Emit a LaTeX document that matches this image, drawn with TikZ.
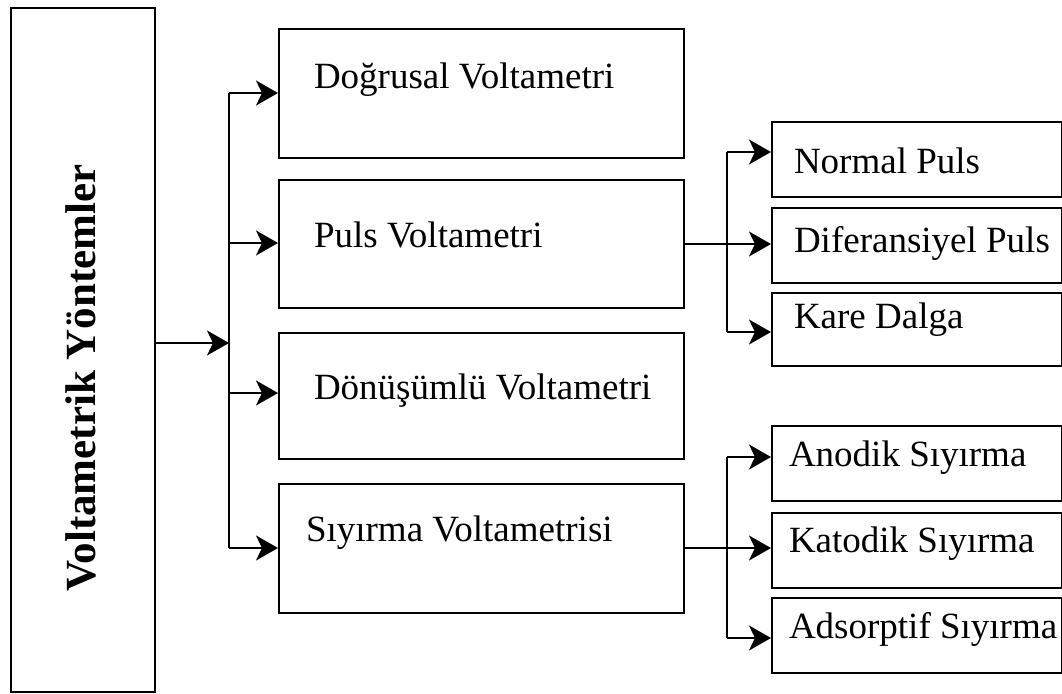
\documentclass[tikz,border=0pt]{standalone}
\usepackage{fontspec}
\setmainfont{Liberation Serif}
\usetikzlibrary{arrows.meta}
\begin{document}
\begin{tikzpicture}[x=1pt,y=-1pt,
  line width=2pt,
  box/.style={draw=black, line width=2pt, rectangle, anchor=north west, inner sep=0pt},
  lbl/.style={anchor=west, inner sep=0pt, font=\fontsize{37}{44}\selectfont},
  arr/.style={-{Stealth[length=22pt,width=25pt,inset=6pt]}},
]
\useasboundingbox (0,0) rectangle (1062,693);
% main box
\node[box, minimum width=144pt, minimum height=684pt] (main) at (10,7) {};
\node[rotate=90, anchor=base, inner sep=0pt, font=\bfseries\fontsize{43}{50}\selectfont] (mainlbl) at (95,378) {Voltametrik Yöntemler};
% middle boxes
\node[box, minimum width=405pt, minimum height=129pt] (b1) at (278,28) {};
\node[box, minimum width=405pt, minimum height=128pt] (b2) at (278,179) {};
\node[box, minimum width=405pt, minimum height=126pt] (b3) at (278,332) {};
\node[box, minimum width=405pt, minimum height=129pt] (b4) at (278,483) {};
\node[lbl] (l1) at (313,80) {Doğrusal Voltametri};
\node[lbl] (l2) at (313,235) {Puls Voltametri};
\node[lbl] (l3) at (313,391) {Dönüşümlü Voltametri};
\node[lbl] (l4) at (305,533) {Sıyırma Voltametrisi};
% right boxes (upper)
\node[box, minimum width=290pt, minimum height=75pt] (r1) at (771,121) {};
\node[box, minimum width=290pt, minimum height=75pt] (r2) at (771,207) {};
\node[box, minimum width=290pt, minimum height=73pt] (r3) at (771,292) {};
\node[lbl] (q1) at (793,161) {Normal Puls};
\node[lbl] (q2) at (793,243) {Diferansiyel Puls};
\node[lbl] (q3) at (793,320) {Kare Dalga};
% right boxes (lower)
\node[box, minimum width=290pt, minimum height=75pt] (s1) at (771,425) {};
\node[box, minimum width=290pt, minimum height=75pt] (s2) at (771,512) {};
\node[box, minimum width=290pt, minimum height=75pt] (s3) at (771,597) {};
\node[lbl] (p1) at (788,458) {Anodik Sıyırma};
\node[lbl] (p2) at (788,544) {Katodik Sıyırma};
\node[lbl] (p3) at (788,629) {Adsorptif Sıyırma};
% trunk
\coordinate (t0) at (229,343);
\coordinate (t1) at (229,93);
\coordinate (t2) at (229,243);
\coordinate (t3) at (229,393);
\coordinate (t4) at (229,548);
\draw[arr] (main.east |- t0) -- (t0);
\draw (t1) -- (t4);
\draw[arr] (t1) -- (t1 -| b1.west);
\draw[arr] (t2) -- (t2 -| b2.west);
\draw[arr] (t3) -- (t3 -| b3.west);
\draw[arr] (t4) -- (t4 -| b4.west);
% upper branch
\coordinate (u1) at (727,152);
\coordinate (u2) at (727,244);
\coordinate (u3) at (727,332);
\draw (u1) -- (u3);
\draw[arr] (b2.east |- u2) -- (u2 -| r2.west);
\draw[arr] (u1) -- (u1 -| r1.west);
\draw[arr] (u3) -- (u3 -| r3.west);
% lower branch
\coordinate (v1) at (727,457);
\coordinate (v2) at (727,548);
\coordinate (v3) at (727,638);
\draw (v1) -- (v3);
\draw[arr] (b4.east |- v2) -- (v2 -| s2.west);
\draw[arr] (v1) -- (v1 -| s1.west);
\draw[arr] (v3) -- (v3 -| s3.west);
\end{tikzpicture}
\end{document}
